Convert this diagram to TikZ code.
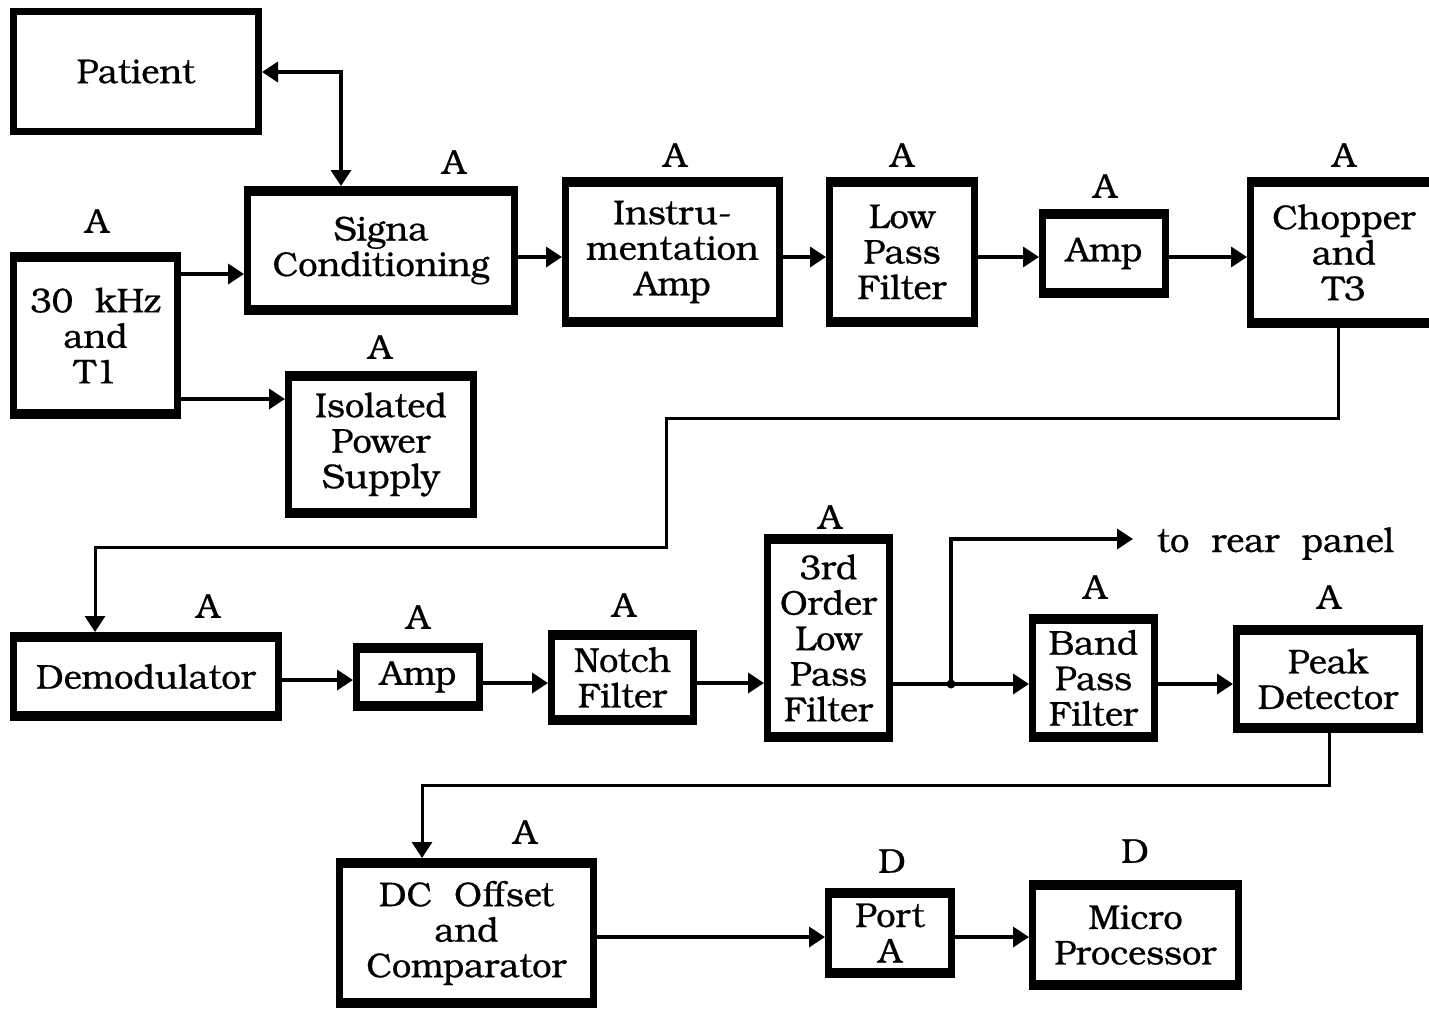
\documentclass[tikz,border=0pt]{standalone}
\usepackage{fontspec}
\setmainfont{TeX Gyre Bonum}[BoldFont={TeX Gyre Bonum}, BoldFeatures={FakeBold=0.6}]
\usetikzlibrary{arrows.meta}
\newcommand{\fsz}{\fontsize{34.5}{35.5}\selectfont\bfseries}
\begin{document}
\begin{tikzpicture}[x=1pt,y=-1pt,
  box/.style={draw, line width=7pt, inner sep=0pt, align=center, font=\fsz},
  lbl/.style={font=\fsz, inner sep=0pt},
  conn/.style={line width=3.5pt, -{Triangle[length=16pt,width=20pt]}},
  dconn/.style={line width=3.5pt, {Triangle[length=16pt,width=20pt]}-{Triangle[length=16pt,width=20pt]}}]
\useasboundingbox (0,0) rectangle (1429,1010);
\fill[white] (0,0) rectangle (1429,1010);
\clip (0,0) rectangle (1429,1010);
% boxes
\node[box, minimum width=245pt, minimum height=120pt] (patient) at (136,71.5) {Patient};
\node[box, minimum width=267pt, minimum height=122pt] (signa) at (381,250.5) {Signa\\Conditioning};
\node[box, minimum width=164pt, minimum height=160pt] (osc) at (95.5,335.5) {30\ \ kHz\\and\\T1};
\node[box, minimum width=185pt, minimum height=140pt] (iso) at (381,444.5) {Isolated\\Power\\Supply};
\node[box, minimum width=214pt, minimum height=143pt] (instr) at (672.5,252) {Instru-\\mentation\\Amp};
\node[box, minimum width=145pt, minimum height=143pt] (lpf) at (902,252) {Low\\Pass\\Filter};
\node[box, minimum width=123pt, minimum height=82pt] (ampa) at (1104,253.5) {Amp};
\node[box, minimum width=187pt, minimum height=144pt] (chop) at (1344,252.5) {Chopper\\and\\T3};
\node[box, minimum width=265pt, minimum height=82pt] (demod) at (146,676.5) {Demodulator};
\node[box, minimum width=123pt, minimum height=61pt] (ampb) at (418,677) {Amp};
\node[box, minimum width=142pt, minimum height=88pt] (notch) at (622.5,677.5) {Notch\\Filter};
\node[box, minimum width=122pt, minimum height=201pt] (lpthree) at (828.5,638) {3rd\\Order\\Low\\Pass\\Filter};
\node[box, minimum width=122pt, minimum height=121pt] (bpf) at (1093.5,678) {Band\\Pass\\Filter};
\node[box, minimum width=183pt, minimum height=101pt] (peak) at (1328,679) {Peak\\Detector};
\node[box, minimum width=254pt, minimum height=143pt] (dc) at (466.5,933) {DC\ \ Offset\\and\\Comparator};
\node[box, minimum width=123pt, minimum height=83pt] (port) at (890,933) {Port\\A};
\node[box, minimum width=206pt, minimum height=103pt] (micro) at (1135.5,935) {Micro\\Processor};
% thicker top and bottom borders
\foreach \n in {osc,iso,signa,instr,lpf,ampa,chop,demod,ampb,notch,lpthree,bpf,peak,dc,port,micro}{
  \fill ([yshift=-10pt]\n.north west) rectangle (\n.north east);
  \fill ([yshift=10pt]\n.south west) rectangle (\n.south east);
}
% labels
\node[lbl] (la1) at (454,162) {A};
\node[lbl] (la2) at (97,221) {A};
\node[lbl] (la3) at (380,347) {A};
\node[lbl] (la4) at (675,155) {A};
\node[lbl] (la5) at (902,155) {A};
\node[lbl] (la6) at (1105,186) {A};
\node[lbl] (la7) at (1344,155) {A};
\node[lbl] (la8) at (208,606) {A};
\node[lbl] (la9) at (418,617) {A};
\node[lbl] (la10) at (624,605) {A};
\node[lbl] (la11) at (830,517) {A};
\node[lbl] (la12) at (1095,587) {A};
\node[lbl] (la13) at (1329,597) {A};
\node[lbl] (la14) at (525,832) {A};
\node[lbl] (ld1) at (892,861) {D};
\node[lbl] (ld2) at (1135,851) {D};
\node[lbl, anchor=base west] (rear) at (1157,552) {to\ \ rear\ \ panel};
% connectors
\draw[dconn] (patient.east |- 0,72) -| (341,0 |- signa.north);
\draw[conn] (osc.east |- 0,274) -- (signa.west |- 0,274);
\draw[conn] (osc.east |- 0,399) -- (iso.west |- 0,399);
\draw[conn] (signa.east |- 0,257) -- (instr.west |- 0,257);
\draw[conn] (instr.east |- 0,257) -- (lpf.west |- 0,257);
\draw[conn] (lpf.east |- 0,257) -- (ampa.west |- 0,257);
\draw[conn] (ampa.east |- 0,257) -- (chop.west |- 0,257);
\draw[conn, line width=3pt] (1338,0 |- chop.south) -- (1338,418) -- (666,418) -- (666,547) -- (95,547) -- (95,0 |- demod.north);
\draw[conn] (demod.east |- 0,680) -- (ampb.west |- 0,680);
\draw[conn] (ampb.east |- 0,683) -- (notch.west |- 0,683);
\draw[conn] (notch.east |- 0,683) -- (lpthree.west |- 0,683);
\coordinate (junc) at (951,684);
\coordinate (rearend) at (1133,539);
\draw[conn] (lpthree.east |- junc) -- (bpf.west |- junc);
\draw[conn] (junc) -- (951,539) -- (rearend);
\fill (junc) circle (4.5pt);
\draw[conn] (bpf.east |- 0,684) -- (peak.west |- 0,684);
\draw[conn, line width=3pt] (1329,0 |- peak.south) -- (1329,785) -- (422,785) -- (422,0 |- dc.north);
\draw[conn] (dc.east |- 0,937) -- (port.west |- 0,937);
\draw[conn] (port.east |- 0,937) -- (micro.west |- 0,937);
\end{tikzpicture}
\end{document}
